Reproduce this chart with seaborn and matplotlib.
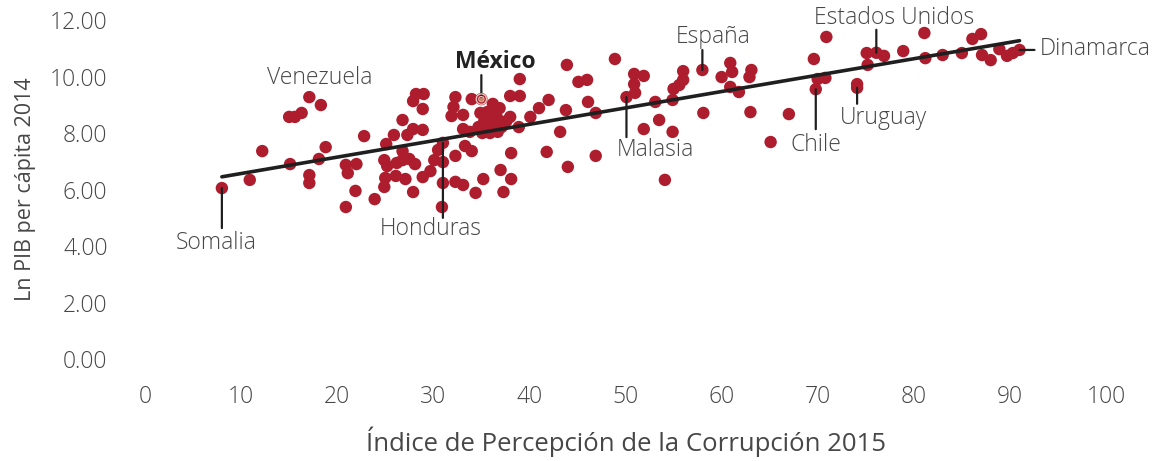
import matplotlib
matplotlib.use("Agg")
import matplotlib.pyplot as plt
import seaborn as sns
import pandas as pd

# ---------------- data ----------------
cpi_2015 = [
    8, 10.9, 12.2, 15.1, 15.0, 15.6, 16.3, 17.1, 18.3, 17.1, 17.1, 18.1, 18.8,
    20.9, 21.1, 20.9, 21.9, 22.0, 22.8, 23.9, 24.9, 25.2, 25.0, 24.9, 25.1, 25.9,
    26.8, 27.3, 27.9, 28.9, 28.9, 27.9, 28.2, 29.0, 26.8, 26.2, 26.8, 27.5, 28.1,
    26.1, 27.1, 27.9, 28.9, 29.7, 30.1, 30.5, 31.0, 31.0, 31.0, 30.9,
    32.3, 32.1, 31.9, 33.1, 33.1, 32.3, 32.3, 33.1, 33.3, 34.0, 34.4, 35.2, 34.0,
    35.0, 36.2, 36.9, 38.0, 39.0, 39.0, 38.1, 37.0, 38.1, 37.3, 38.0, 38.9, 40.1,
    41.0, 42.0, 43.8, 43.9, 45.1, 46.0, 46.1, 46.9, 48.9, 43.2, 41.8, 44.0, 46.9,
    34.9, 35.6, 36.3, 35.3, 36.1, 36.9, 34.7, 35.5, 36.3, 37.1, 35.1, 35.9, 36.7,
    33.8, 37.6, 36.6,
    50.1, 50.9, 51.9, 50.9, 51.0, 53.1, 53.5, 51.9, 54.9, 54.1, 54.9, 55.0, 55.6,
    56.0, 56.0, 58.0, 58.1, 60.0, 60.9, 61.1, 60.9, 61.8, 62.9, 63.1, 63.0, 67.0,
    65.1, 69.6, 70.9, 70.0, 70.8, 69.8, 74.1, 74.1, 75.1, 76.1, 76.9, 75.2, 78.9,
    81.1, 81.2, 83.0, 85.0, 86.1, 87.0, 87.1, 88.0, 88.9, 89.7, 90.3, 91.0,
]
ln_pib_2014 = [
    6.05, 6.34, 7.36, 6.90, 8.57, 8.57, 8.71, 9.27, 8.99, 6.51, 6.23, 7.08, 7.50,
    6.87, 6.58, 5.38, 5.95, 6.90, 7.89, 5.66, 7.04, 6.83, 6.41, 6.09, 7.61, 7.93,
    8.46, 7.93, 8.14, 8.11, 8.85, 9.13, 9.38, 9.38, 7.36, 6.94, 7.04, 7.08, 6.90,
    6.48, 6.37, 5.91, 6.44, 6.65, 7.04, 7.40, 7.65, 6.97, 6.23, 5.38,
    9.27, 8.92, 8.60, 8.64, 8.14, 7.19, 6.27, 6.16, 7.54, 7.36, 5.88, 6.37, 9.20,
    9.20, 9.03, 8.88, 9.31, 9.31, 9.91, 7.29, 6.69, 6.37, 5.91, 8.57, 8.21, 8.57,
    8.88, 9.17, 8.81, 10.41, 9.81, 9.88, 9.10, 8.71, 10.62, 8.04, 7.33, 6.80, 7.19,
    8.71, 8.74, 8.64, 8.42, 8.42, 8.39, 8.21, 8.21, 8.18, 8.21, 8.00, 8.00, 8.04,
    8.04, 8.42, 8.57,
    9.27, 10.09, 10.02, 9.73, 9.42, 9.10, 8.46, 8.14, 8.04, 6.34, 9.17, 9.56, 9.70,
    9.88, 10.19, 10.23, 8.71, 9.98, 10.48, 10.16, 9.63, 9.45, 9.98, 10.23, 8.74, 8.67,
    7.68, 10.62, 11.40, 9.91, 9.95, 9.55, 9.73, 9.60, 10.83, 10.84, 10.73, 10.41, 10.90,
    11.54, 10.65, 10.76, 10.83, 11.33, 11.50, 10.76, 10.58, 10.97, 10.73, 10.83, 10.94,
]

label_names = ["Somalia", "Venezuela", "Honduras", "México", "Malasia", "España",
               "Chile", "Uruguay", "Estados Unidos", "Dinamarca"]
label_x = [8, 17.1, 31.0, 35.0, 50.1, 58.0, 69.8, 74.1, 76.1, 91.0]
label_y = [6.05, 9.27, 7.65, 9.20, 9.27, 10.23, 9.55, 9.60, 10.84, 10.94]

x_ticks = [0, 10, 20, 30, 40, 50, 60, 70, 80, 90, 100]
y_ticks = [0, 2, 4, 6, 8, 10, 12]

# ---------------- style ----------------
sns.set_theme(style="white")
fam = ["Open Sans", "DejaVu Sans"]
plt.rcParams["font.family"] = fam
plt.rcParams["font.weight"] = "light"

RED = "#AD1D2D"
TXT = "#474747"
LINE = "#1f1f1f"

df = pd.DataFrame({"cpi": cpi_2015, "lnpib": ln_pib_2014})

fig = plt.figure(figsize=(11.64, 4.61), dpi=100)
ax = fig.add_axes([145 / 1164, 1 - 359 / 461, (1106 - 145) / 1164, (359 - 20) / 461])

sns.scatterplot(data=df, x="cpi", y="lnpib", ax=ax, color=RED, s=80,
                edgecolor="none", linewidth=0, zorder=3, clip_on=False)
sns.regplot(data=df, x="cpi", y="lnpib", ax=ax, scatter=False, ci=None,
            truncate=True, line_kws=dict(color=LINE, lw=2.6, zorder=4))

# Mexico ring highlight
mx, my = label_x[3], label_y[3]
ax.scatter([mx], [my], s=55, facecolor="none", edgecolor="#f3c9c2", lw=0.9, zorder=6)
ax.scatter([mx], [my], s=14, facecolor="none", edgecolor="#f3c9c2", lw=0.8, zorder=6)
ax.scatter([mx], [my], s=4, color="#c4876a", zorder=6)

# label layout: text offset (px), leader end offset (px)
specs = {
    "Somalia":        dict(t=(-6, -55), l=(0, -40), ha="center"),
    "Venezuela":      dict(t=(10, 19), l=None, ha="center"),
    "Honduras":       dict(t=(-12, -86), l=(0, -75), ha="center"),
    "México":         dict(t=(14, 37), l=(0, 24), ha="center"),
    "Malasia":        dict(t=(29, -53), l=(0, -40), ha="center"),
    "España":         dict(t=(11, 33), l=(0, 20), ha="center"),
    "Chile":          dict(t=(0, -56), l=(0, -40), ha="center"),
    "Uruguay":        dict(t=(26, -30), l=(0, -16), ha="center"),
    "Estados Unidos": dict(t=(18, 35), l=(0, 23), ha="center"),
    "Dinamarca":      dict(t=(20, 1), l=(15, 0), ha="left"),
}
for name, x, y in zip(label_names, label_x, label_y):
    sp = specs[name]
    bold = name == "México"
    ax.annotate(name, xy=(x, y), xytext=sp["t"], textcoords="offset pixels",
                ha=sp["ha"], va="center", fontsize=16.5,
                color="#222222" if bold else TXT,
                fontweight="bold" if bold else "light", zorder=7,
                annotation_clip=False)
    if sp["l"] is not None:
        ax.annotate("", xy=(x, y), xytext=sp["l"], textcoords="offset pixels",
                    arrowprops=dict(arrowstyle="-", color=LINE, lw=1.6,
                                    shrinkA=0, shrinkB=0),
                    zorder=5, annotation_clip=False)

ax.set_xlim(0, 100)
ax.set_ylim(0, 12)
ax.set_xticks(x_ticks)
ax.set_xticklabels([str(v) for v in x_ticks])
ax.set_yticks(y_ticks)
ax.set_yticklabels([f"{v:.2f}" for v in y_ticks])
ax.tick_params(axis="both", length=0, labelsize=16.5, labelcolor=TXT)
ax.tick_params(axis="x", pad=19)
ax.tick_params(axis="y", pad=27)
for s in ax.spines.values():
    s.set_visible(False)
ax.grid(False)
ax.set_xlabel("Índice de Percepción de la Corrupción 2015", fontsize=18.5,
              color=TXT, labelpad=12)
ax.set_ylabel("Ln PIB per cápita 2014", fontsize=15.5, color=TXT, labelpad=10)

fig.savefig("out.png", dpi=100)
